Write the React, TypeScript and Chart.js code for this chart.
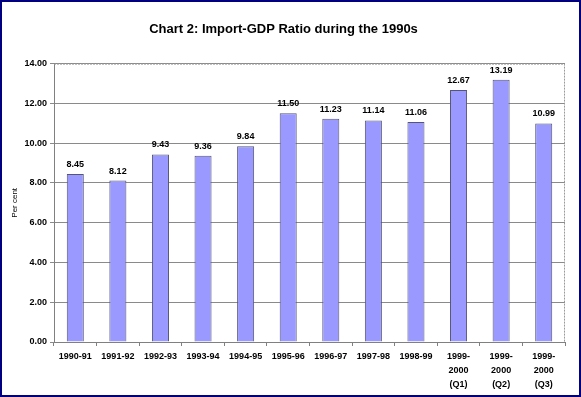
import React, { useEffect, useRef } from "react";
import { Chart, registerables } from "chart.js";

Chart.register(...registerables);

const categories: (string | string[])[] = [
  "1990-91", "1991-92", "1992-93", "1993-94", "1994-95", "1995-96",
  "1996-97", "1997-98", "1998-99",
  ["1999-", "2000", "(Q1)"], ["1999-", "2000", "(Q2)"], ["1999-", "2000", "(Q3)"],
];
const importGdpRatio = [8.45, 8.12, 9.43, 9.36, 9.84, 11.5, 11.23, 11.14, 11.06, 12.67, 13.19, 10.99];
const chartTitle = "Chart 2: Import-GDP Ratio during the 1990s";
const yAxisTitle = "Per cent";

const FONT = "'Liberation Sans', Arial, sans-serif";

const valueLabels = {
  id: "valueLabels",
  afterDatasetsDraw(chart: any) {
    const ctx = chart.ctx;
    const meta = chart.getDatasetMeta(0);
    ctx.save();
    ctx.font = `bold 9px ${FONT}`;
    ctx.fillStyle = "#000";
    ctx.textAlign = "center";
    ctx.textBaseline = "bottom";
    meta.data.forEach((bar: any, i: number) => {
      ctx.fillText(importGdpRatio[i].toFixed(2), bar.x, bar.y - 5);
    });
    ctx.restore();
  },
};

const plotBorder = {
  id: "plotBorder",
  beforeDatasetsDraw(chart: any) {
    const { ctx, chartArea } = chart;
    ctx.save();
    ctx.strokeStyle = "#9a9a9a";
    ctx.lineWidth = 1;
    ctx.setLineDash([2, 1]);
    ctx.beginPath();
    ctx.moveTo(chartArea.left, chartArea.top + 0.5);
    ctx.lineTo(chartArea.right - 0.5, chartArea.top + 0.5);
    ctx.lineTo(chartArea.right - 0.5, chartArea.bottom);
    ctx.stroke();
    ctx.restore();
  },
};

export default function App() {
  const ref = useRef<HTMLCanvasElement>(null);
  useEffect(() => {
    document.body.style.margin = "0";
    const chart = new Chart(ref.current!, {
      type: "bar",
      data: {
        labels: categories,
        datasets: [
          {
            data: importGdpRatio,
            backgroundColor: "#9999FF",
            borderColor: "#555577",
            borderWidth: 1,
            barPercentage: 0.4,
            categoryPercentage: 1,
          },
        ],
      },
      options: {
        animation: false,
        responsive: true,
        maintainAspectRatio: false,
        layout: { padding: { left: 0, right: 14, top: 0, bottom: 0 } },
        plugins: {
          legend: { display: false },
          tooltip: { enabled: false },
          title: {
            display: true,
            text: chartTitle,
            color: "#000",
            font: { family: FONT, size: 13, weight: "bold" },
            padding: { top: 20, bottom: 26 },
          },
        },
        scales: {
          y: {
            min: 0,
            max: 14,
            ticks: {
              stepSize: 2,
              color: "#000",
              font: { family: FONT, size: 9, weight: "bold" },
              padding: 3,
              callback: (v: any) => Number(v).toFixed(2),
            },
            grid: { color: "#8a8a8a", tickLength: 4, drawTicks: true },
            border: { color: "#808080", display: true },
            title: {
              display: true,
              text: yAxisTitle,
              color: "#000",
              font: { family: FONT, size: 8 },
              padding: { top: 8, bottom: 0 },
            },
            afterFit: (s: any) => { s.width = 52; },
          },
          x: {
            offset: true,
            ticks: {
              color: "#000",
              font: { family: FONT, size: 9, weight: "bold", lineHeight: 1.55 },
              padding: 4,
              maxRotation: 0,
              autoSkip: false,
            },
            grid: { display: true, offset: true, drawOnChartArea: false, tickLength: 4, color: "#808080" },
            border: { color: "#808080" },
            afterFit: (s: any) => { s.height = 53; },
          },
        },
      },
      plugins: [valueLabels, plotBorder],
    });
    return () => chart.destroy();
  }, []);
  return (
    <div style={{ width: 581, height: 397, border: "2px solid #000080", boxSizing: "border-box", background: "#fff" }}>
      <div style={{ width: 577, height: 393, position: "relative" }}>
        <canvas ref={ref} />
      </div>
    </div>
  );
}
